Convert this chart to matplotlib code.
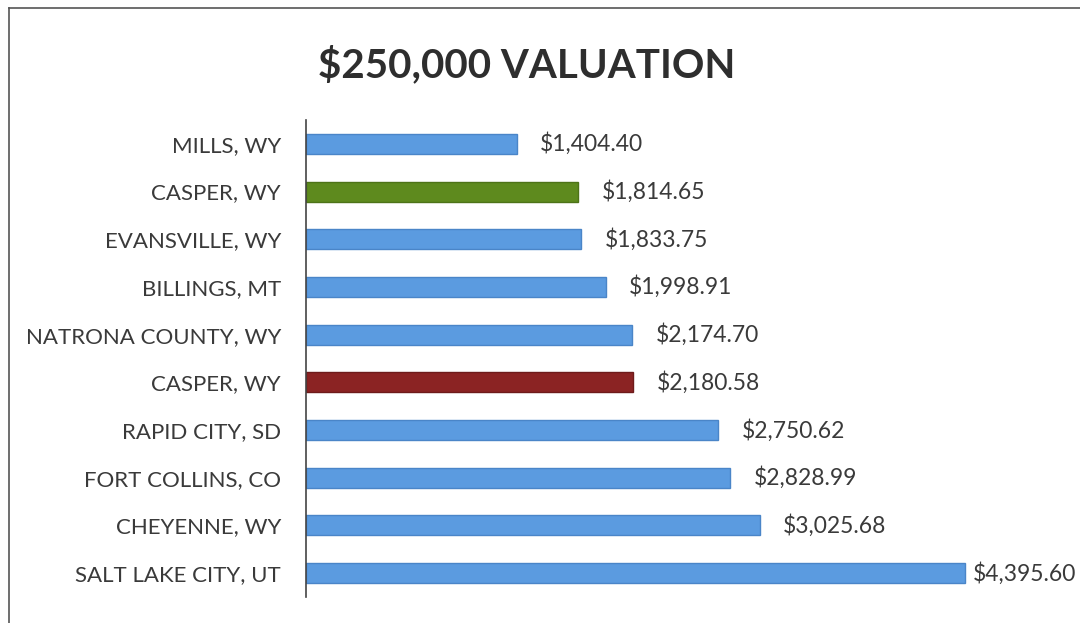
import matplotlib.pyplot as plt
from matplotlib.lines import Line2D

cities = ['MILLS, WY', 'CASPER, WY', 'EVANSVILLE, WY', 'BILLINGS, MT',
          'NATRONA COUNTY, WY', 'CASPER, WY', 'RAPID CITY, SD',
          'FORT COLLINS, CO', 'CHEYENNE, WY', 'SALT LAKE CITY, UT']
taxes = [1404.40, 1814.65, 1833.75, 1998.91, 2174.70, 2180.58,
         2750.62, 2828.99, 3025.68, 4395.60]

blue = '#5b9be0'
bar_colors = [blue, '#5e8a1e', blue, blue, blue, '#8b2323', blue, blue, blue, blue]
edge_colors = ['#4a85c8', '#4d7318', '#4a85c8', '#4a85c8', '#4a85c8', '#6e1b1b',
               '#4a85c8', '#4a85c8', '#4a85c8', '#4a85c8']

plt.rcParams['font.family'] = ['Lato', 'DejaVu Sans']

fig = plt.figure(figsize=(10.8, 6.23), dpi=100)
ax = fig.add_axes([306 / 1080, 26 / 623, 774 / 1080, 477 / 623])

ypos = list(range(len(cities)))
ax.barh(ypos, taxes, height=0.42, color=bar_colors, edgecolor=edge_colors, linewidth=1)
ax.set_ylim(len(cities) - 0.5, -0.5)
ax.set_xlim(0, 774 / 0.1499)

ax.set_yticks(ypos)
ax.set_yticklabels(cities, fontsize=16, color='#3a3a3a')
ax.tick_params(axis='y', length=0, pad=18)
ax.set_xticks([])
for s in ['top', 'right', 'bottom']:
    ax.spines[s].set_visible(False)
ax.spines['left'].set_color('#444444')
ax.spines['left'].set_linewidth(1.2)

# last label sits tighter to the bar so it fits in the frame
offsets = [17, 17, 17, 17, 17, 17, 17, 17, 17, 6]
for y, v, off in zip(ypos, taxes, offsets):
    ax.annotate(f'${v:,.2f}', (v, y), xytext=(off, 0), textcoords='offset points',
                va='center', ha='left', fontsize=16.5, color='#3a3a3a')

fig.text(527 / 1080, 1 - 65 / 623, '$250,000 VALUATION', ha='center', va='center',
         fontsize=29, fontweight='bold', color='#2e2e2e')

# frame of the scanned chart
fig.add_artist(Line2D([9 / 1080, 9 / 1080], [0, 1 - 8 / 623], transform=fig.transFigure,
                      color='#555555', linewidth=1.2))
fig.add_artist(Line2D([9 / 1080, 1], [1 - 8 / 623, 1 - 8 / 623], transform=fig.transFigure,
                      color='#555555', linewidth=1.2))

fig.savefig('out.png', dpi=100)
